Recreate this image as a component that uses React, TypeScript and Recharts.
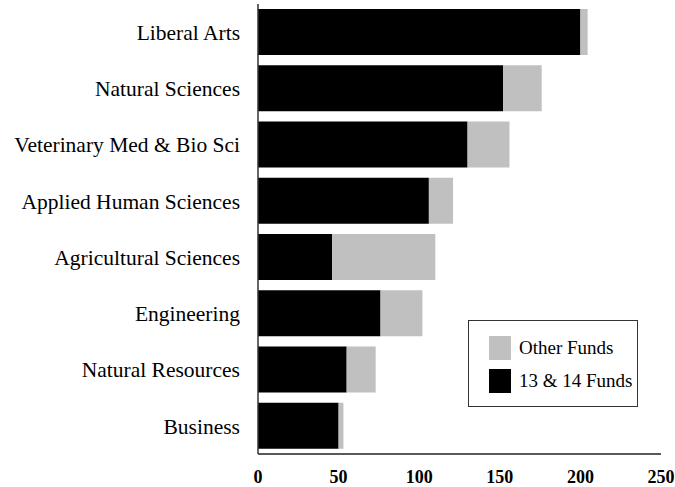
import { Bar, BarChart, XAxis, YAxis, Legend } from "recharts"

const categories = [
  "Liberal Arts",
  "Natural Sciences",
  "Veterinary Med & Bio Sci",
  "Applied Human Sciences",
  "Agricultural Sciences",
  "Engineering",
  "Natural Resources",
  "Business",
]

const funds1314 = [200, 152, 130, 106, 46, 76, 55, 50]
const otherFunds = [4.5, 24, 26, 15, 64, 26, 18, 3]

const xTicks = [0, 50, 100, 150, 200, 250]

const FONT = "'Liberation Serif', 'Times New Roman', serif"

const data = categories.map((name, i) => ({
  name,
  funds1314: funds1314[i],
  other: otherFunds[i],
}))

const legendItems = [
  { label: "Other Funds", color: "#c0c0c0" },
  { label: "13 & 14 Funds", color: "#000000" },
]

function LegendBox() {
  return (
    <div
      style={{
        width: 170,
        height: 87,
        boxSizing: "border-box",
        border: "1px solid #333",
        background: "#fff",
        paddingTop: 15,
        paddingLeft: 20,
        fontFamily: FONT,
        fontSize: 19,
        color: "#000",
      }}
    >
      {legendItems.map((item) => (
        <div
          key={item.label}
          style={{ display: "flex", alignItems: "center", height: 24, marginBottom: 9 }}
        >
          <span
            style={{
              display: "inline-block",
              width: 22,
              height: 24,
              background: item.color,
              marginRight: 8,
            }}
          />
          <span>{item.label}</span>
        </div>
      ))}
    </div>
  )
}

export default function App() {
  return (
    <div style={{ position: "absolute", left: 0, top: 0, width: 675, height: 487, background: "#fff" }}>
      <BarChart
        width={675}
        height={487}
        data={data}
        layout="vertical"
        margin={{ top: 4, right: 14, left: 0, bottom: 3 }}
        barSize={46}
      >
        <XAxis
          type="number"
          domain={[0, 250]}
          ticks={xTicks}
          height={30}
          tickSize={0}
          tickMargin={16}
          axisLine={{ stroke: "#222", strokeWidth: 1.5 }}
          tickLine={false}
          tick={{ fontSize: 18, fontWeight: "bold", fill: "#000", fontFamily: FONT }}
        />
        <YAxis
          type="category"
          dataKey="name"
          width={258}
          tickSize={0}
          tickMargin={18}
          axisLine={{ stroke: "#333", strokeWidth: 1.5 }}
          tickLine={false}
          interval={0}
          tick={{ fontSize: 21.5, fill: "#000", fontFamily: FONT }}
        />
        <Legend
          layout="vertical"
          align="center"
          verticalAlign="middle"
          wrapperStyle={{ left: 468, top: 320, width: 170 }}
          content={() => <LegendBox />}
        />
        <Bar dataKey="funds1314" stackId="a" fill="#000000" isAnimationActive={false} />
        <Bar dataKey="other" stackId="a" fill="#c0c0c0" isAnimationActive={false} />
      </BarChart>
    </div>
  )
}
